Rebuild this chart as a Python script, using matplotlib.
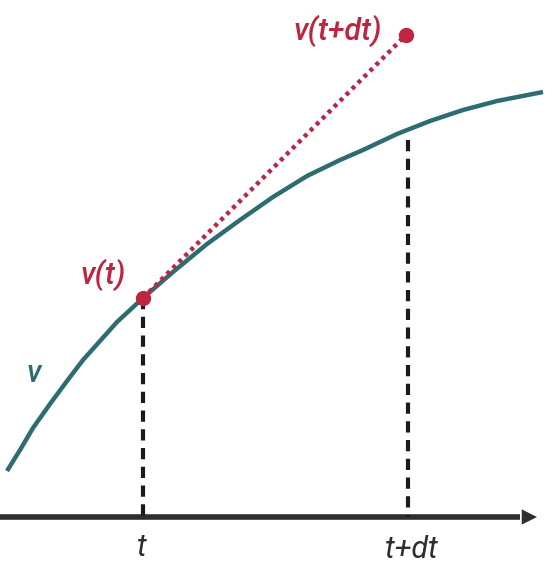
import numpy as np
import matplotlib.pyplot as plt

# curve v (pixel-like coordinates, y grows downward)
curve_x = [7, 20, 33, 50, 67, 83, 100, 117, 143, 173, 207, 240, 273, 307, 340, 363, 397, 430, 463, 497, 543]
curve_y = [471, 450, 428, 404, 381, 360, 341, 322, 298, 272, 244, 220, 197, 176, 160, 150, 134, 121, 110, 101, 92]

t_x = 143
t_y = 298
tdt_x = 408
tdt_top = 140
tangent_end = (406, 35)
axis_y = 517

teal = "#2d6d72"
red = "#bf2440"
dark = "#302d2b"

fig = plt.figure(figsize=(5.48, 5.78), dpi=100)
ax = fig.add_axes([0, 0, 1, 1])
ax.set_xlim(0, 548)
ax.set_ylim(578, 0)
ax.axis("off")

# x axis with arrow
ax.plot([0, 520], [axis_y, axis_y], color=dark, lw=4, solid_capstyle="butt")
ax.annotate("", xy=(537, axis_y), xytext=(515, axis_y),
            arrowprops=dict(arrowstyle="-|>,head_length=1.1,head_width=0.55",
                            color=dark, lw=0, shrinkA=0, shrinkB=0))

# dashed guides
ax.plot([t_x, t_x], [t_y, axis_y], color="#1a1a1a", lw=3, ls=(0, (2.7, 1.8)))
ax.plot([tdt_x, tdt_x], [tdt_top, axis_y], color="#1a1a1a", lw=3, ls=(0, (2.7, 1.8)))

# curve
ax.plot(curve_x, curve_y, color=teal, lw=3.2, solid_capstyle="butt", solid_joinstyle="round")

# tangent
ax.plot([t_x, tangent_end[0]], [t_y, tangent_end[1]], color=red, lw=3.2, ls=(0, (0.9, 1.0)))
ax.plot([t_x], [t_y], "o", color=red, ms=10)
ax.plot([tangent_end[0]], [tangent_end[1]], "o", color=red, ms=10)

font = ["Roboto", "DejaVu Sans"]
kw = dict(fontsize=22, style="italic", weight="medium", family=font, ha="center", va="center")
ax.text(103, 275, "v(t)", color=red, **kw)
ax.text(338, 31, "v(t+dt)", color=red, **kw)
ax.text(34, 373, "v", color=teal, **kw)
kw["weight"] = "normal"
ax.text(142, 548, "t", color=dark, **kw)
ax.text(411, 549, "t+dt", color=dark, **kw)

fig.savefig("out.png", dpi=100)
